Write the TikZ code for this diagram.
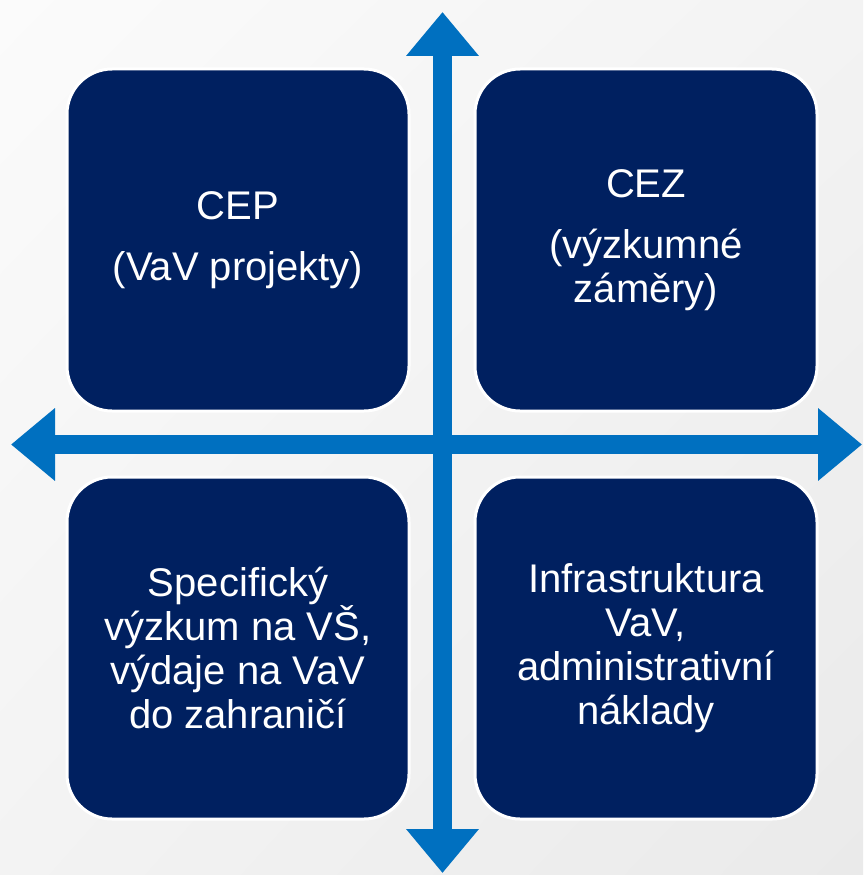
\documentclass[tikz,border=0pt]{standalone}
\usepackage{fontspec}
\setmainfont{Liberation Sans}
\usetikzlibrary{arrows.meta,positioning,shadings}
\definecolor{navy}{RGB}{0,32,96}
\definecolor{axisblue}{RGB}{0,112,192}
\definecolor{bglight}{RGB}{251,251,251}
\definecolor{bgmid}{RGB}{243,243,243}
\definecolor{bgdark}{RGB}{234,234,234}

\begin{document}
\begin{tikzpicture}[
  x=1pt, y=-1pt,
  quad/.style={draw=white, line width=3pt, fill=navy, rounded corners=45pt,
    minimum width=342pt, minimum height=342pt, outer sep=0pt, align=center,
    text=white, font=\fontsize{40}{44}\selectfont},
  axis/.style={draw=axisblue, line width=19pt,
    {Triangle[width=70pt,length=44pt]}-{Triangle[width=70pt,length=44pt]}},
]
  % background
  \shade[upper left=bglight, upper right=bgmid, lower left=bgmid, lower right=bgdark]
    (0,0) rectangle (863,875);
  \useasboundingbox (0,0) rectangle (863,875);

  \node[quad] (cep) at (238,240) {CEP\\[17pt](VaV projekty)};
  \node[quad, right=66pt of cep] (cez) {CEZ\\[17pt](výzkumné\\záměry)};
  \node[quad, below=66pt of cep] (spec) {Specifický\\výzkum na VŠ,\\výdaje na VaV\\do zahraničí};
  \node[quad, below=66pt of cez] (infra) {Infrastruktura\\VaV,\\administrativní\\náklady};

  \coordinate (top) at (442.5,12);
  \coordinate (bottom) at (442.5,873);
  \coordinate (left) at (11,444.5);
  \coordinate (right) at (862,444.5);

  \draw[axis] (left) -- (right);
  \draw[axis] (bottom) -- (top);
\end{tikzpicture}
\end{document}
